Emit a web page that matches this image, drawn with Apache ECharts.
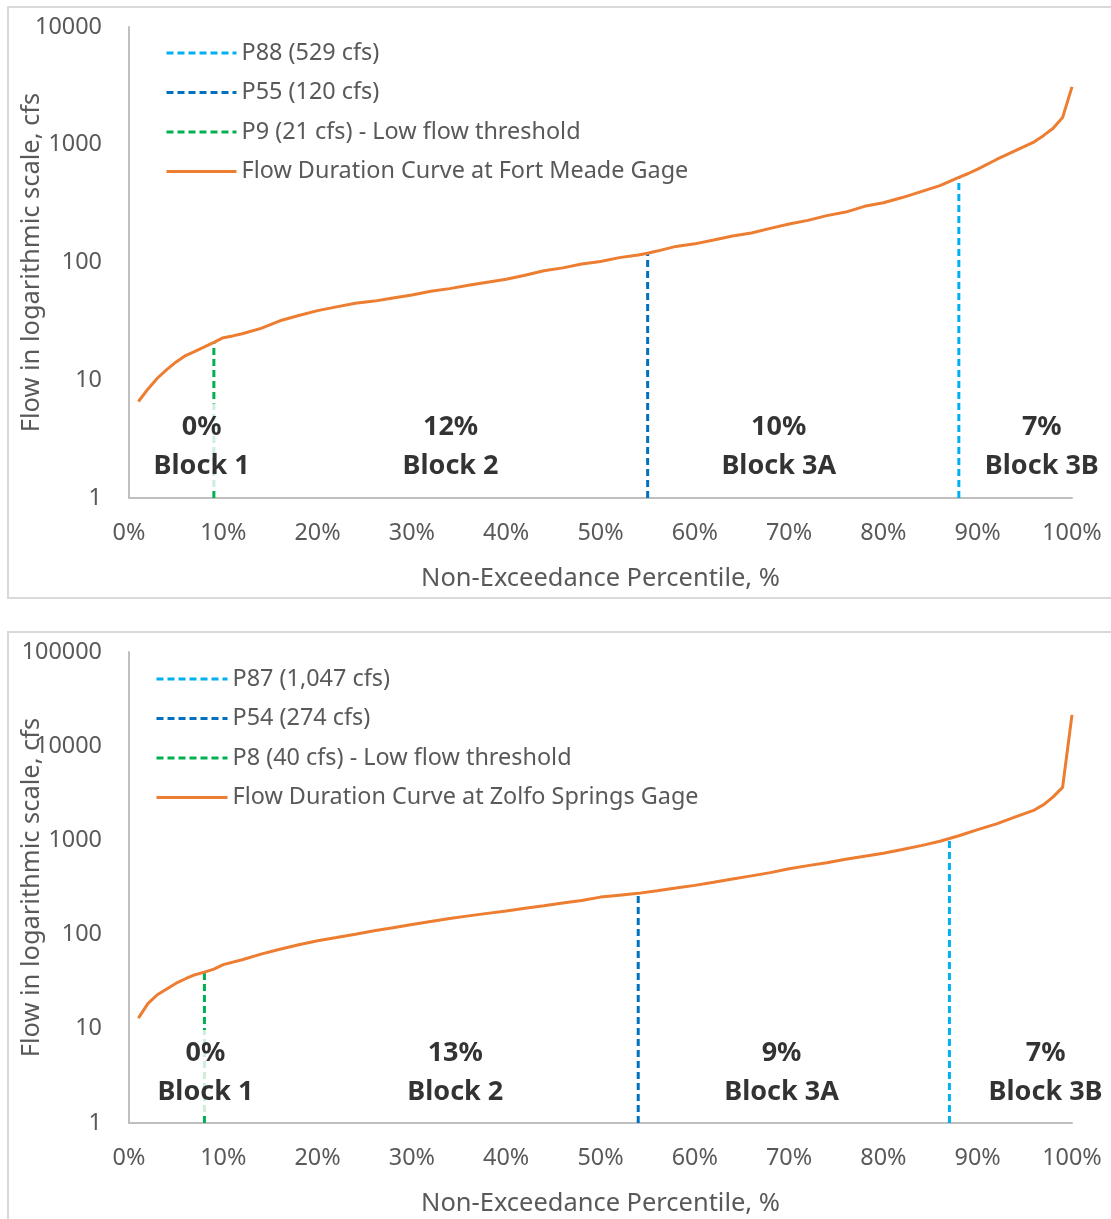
<!DOCTYPE html>
<html><head><meta charset="utf-8">
<script src="https://cdn.jsdelivr.net/npm/echarts@6/dist/echarts.min.js"></script>
<style>html,body{margin:0;padding:0;background:#fff}#c{width:1111px;height:1219px}</style>
</head><body><div id="c"></div>
<script>
// ---------- Data: Fort Meade gage (top) ----------
const topPct  = [1,2,3,4,5,6,7,8,9,10,11,12,14,16,18,20,22,24,26,28,30,32,34,36,38,40,42,44,46,48,50,52,54,55,56,58,60,62,64,66,68,70,72,74,76,78,80,82,84,86,88,89,90,92,94,96,97,98,99,100];
const topFlow = [6.6,8.4,10.4,12.3,14.3,16.2,17.6,19.2,21,23,23.8,24.8,27.6,32,35.5,39,42,45,47,50,53,57,60,64,68,72,78,85,90,97,102,110,116,120,125,137,144,155,168,178,195,212,228,250,268,300,322,356,400,450,529,570,620,750,890,1060,1200,1380,1700,3100];
const topThrName = ['P88 (529 cfs)','P55 (120 cfs)','P9 (21 cfs) - Low flow threshold'];
const topThrPct  = [88,55,9];
const topThrFlow = [529,120,21];
const topCurveName = 'Flow Duration Curve at Fort Meade Gage';
const topShares = ['0%','12%','10%','7%'];

// ---------- Data: Zolfo Springs gage (bottom) ----------
const botPct  = [1,2,3,4,5,6,7,8,9,10,12,14,16,18,20,22,24,26,28,30,32,34,36,38,40,42,44,46,48,50,52,54,56,58,60,62,64,66,68,70,72,74,76,78,80,82,84,86,87,88,90,92,94,96,97,98,99,100];
const botFlow = [13,18.5,23,26.5,30.5,34,37.5,40,43,48,54,62,70,78,86,93,101,110,118,128,138,148,158,168,178,190,202,216,230,250,262,274,292,312,333,360,390,420,455,500,540,580,630,680,730,800,880,980,1047,1120,1300,1500,1780,2100,2400,2900,3650,21500];
const botThrName = ['P87 (1,047 cfs)','P54 (274 cfs)','P8 (40 cfs) - Low flow threshold'];
const botThrPct  = [87,54,8];
const botThrFlow = [1047,274,40];
const botCurveName = 'Flow Duration Curve at Zolfo Springs Gage';
const botShares = ['0%','13%','9%','7%'];

const blockNames = ['Block 1','Block 2','Block 3A','Block 3B'];

// ---------- styling ----------
const FONT = 'Noto Sans';
const GRAY = '#595959';
const thrColors = ['#00B0F0','#0070C0','#00B050'];
const curveColor = '#ED7D31';

function fit(text, target, weight) {
  const ctx = document.createElement('canvas').getContext('2d');
  ctx.font = (weight||'normal') + ' 100px "' + FONT + '"';
  return 100 * target / ctx.measureText(text).width;
}
const fsLegend = fit(topCurveName, 447);
const fsTick = fit('10000', 67);
const fsName = fit('Non-Exceedance Percentile, %', 359);
const fsBlock = fit('Block 3B', 114, 'bold');

// label anchor positions (x in %, y in cfs) per panel
const topLabelAt = [[7.7,2.74],[34.1,2.74],[68.9,2.74],[96.8,2.74]];
const botLabelAt = [[8.1,3.39],[34.6,3.39],[69.2,3.39],[97.2,3.39]];

const panels = [
  {top:27, height:471, ymax:10000, pct:topPct, flow:topFlow, thrName:topThrName, thrPct:topThrPct, thrFlow:topThrFlow, curve:topCurveName, shares:topShares, labelAt:topLabelAt, legendLeft:165, legendTop:41, legendW:70},
  {top:652, height:471, ymax:100000, pct:botPct, flow:botFlow, thrName:botThrName, thrPct:botThrPct, thrFlow:botThrFlow, curve:botCurveName, shares:botShares, labelAt:botLabelAt, legendLeft:155, legendTop:667, legendW:71}
];

const option = {
  animation:false,
  backgroundColor:'#fff',
  textStyle:{fontFamily:FONT},
  grid:[], xAxis:[], yAxis:[], legend:[], series:[],
  graphic:[
    {type:'rect', shape:{x:8,y:7,width:1120,height:591}, style:{fill:'none', stroke:'#D9D9D9', lineWidth:2}, silent:true},
    {type:'rect', shape:{x:8,y:632,width:1120,height:620}, style:{fill:'none', stroke:'#D9D9D9', lineWidth:2}, silent:true}
  ]
};

panels.forEach((p,i)=>{
  option.grid.push({left:129, right:39, top:p.top, height:p.height, containLabel:false, outerBoundsMode:'none'});
  option.xAxis.push({
    gridIndex:i, type:'value', min:0, max:100, interval:10,
    axisLine:{show:true, lineStyle:{color:'#BFBFBF', width:2}},
    axisTick:{show:false}, splitLine:{show:false},
    axisLabel:{color:GRAY, fontSize:fsTick, margin:24, formatter:v=>v+'%'},
    name:'Non-Exceedance Percentile, %', nameLocation:'middle', nameGap:68, nameMoveOverlap:false,
    nameTextStyle:{color:GRAY, fontSize:fsName}
  });
  option.yAxis.push({
    gridIndex:i, type:'log', logBase:10, min:1, max:p.ymax,
    axisLine:{show:true, lineStyle:{color:'#BFBFBF', width:2}},
    axisTick:{show:false}, splitLine:{show:false}, minorSplitLine:{show:false},
    axisLabel:{color:GRAY, fontSize:fsTick, margin:27, formatter:v=>String(Math.round(v))},
    name:'Flow in logarithmic scale, cfs', nameLocation:'middle', nameGap:85, nameMoveOverlap:false,
    nameTextStyle:{color:GRAY, fontSize:fsName}
  });
  const names = p.thrName.concat([p.curve]);
  option.legend.push({
    data:names, orient:'vertical', left:p.legendLeft, top:p.legendTop, padding:0,
    itemWidth:p.legendW, itemHeight:14, itemGap:15.5,
    itemStyle:{opacity:0},
    lineStyle:{width:3},
    textStyle:{color:GRAY, fontSize:fsLegend, lineHeight:24}
  });
  p.thrName.forEach((n,k)=>{
    option.series.push({
      name:n, type:'line', xAxisIndex:i, yAxisIndex:i, symbol:'none',
      data:[[p.thrPct[k],1],[p.thrPct[k],p.thrFlow[k]]],
      lineStyle:{color:thrColors[k], width:3, type:[7,4]}, itemStyle:{color:thrColors[k]}, z:2
    });
  });
  option.series.push({
    name:p.curve, type:'line', xAxisIndex:i, yAxisIndex:i, symbol:'none',
    data:p.pct.map((x,k)=>[x,p.flow[k]]),
    lineStyle:{color:curveColor, width:3}, itemStyle:{color:curveColor}, z:3
  });
  option.series.push({
    name:'labels'+i, type:'scatter', xAxisIndex:i, yAxisIndex:i, symbolSize:0, silent:true, z:5, zlevel:1,
    data:blockNames.map((b,k)=>({value:p.labelAt[k], name:p.shares[k]+'\n'+b})),
    label:{show:true, position:'inside', formatter:'{b}', color:'#000', fontWeight:'bold', fontSize:fsBlock, lineHeight:39, align:'center', verticalAlign:'middle', backgroundColor:'#ffffff', padding:[4,4,4,4]}
  });
});

const chart = echarts.init(document.getElementById('c'), null, {renderer:'canvas'});
chart.setOption(option);
</script>
</body></html>
